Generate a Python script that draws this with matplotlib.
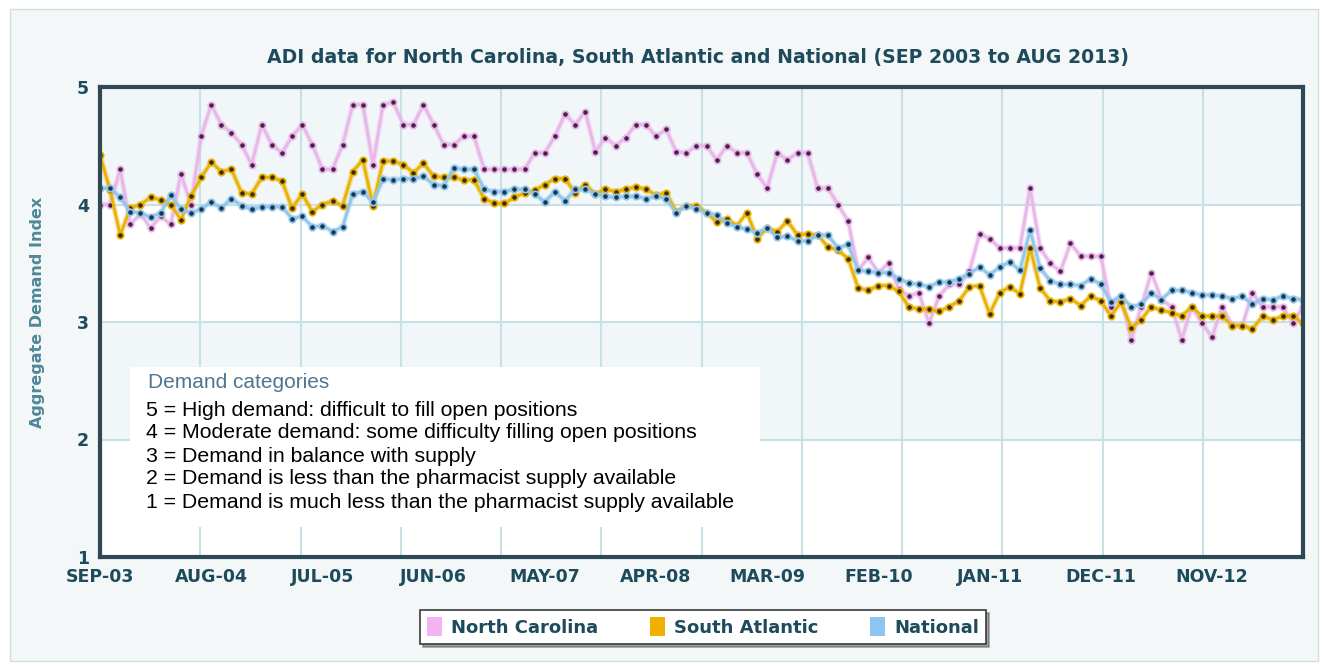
import matplotlib.pyplot as plt
import matplotlib.patches as mpatches
import numpy as np

# monthly ADI values, SEP-03 .. AUG-13
north_carolina = [
    4.00, 4.00, 4.30, 3.83, 3.92, 3.80, 3.90, 3.83, 4.26, 4.00,
    4.58, 4.85, 4.68, 4.61, 4.51, 4.34, 4.68, 4.51, 4.44, 4.58,
    4.68, 4.51, 4.30, 4.30, 4.51, 4.85, 4.85, 4.34, 4.85, 4.87,
    4.68, 4.68, 4.85, 4.68, 4.51, 4.51, 4.58, 4.58, 4.30, 4.30,
    4.30, 4.30, 4.30, 4.44, 4.44, 4.58, 4.77, 4.68, 4.79, 4.45,
    4.57, 4.50, 4.57, 4.68, 4.68, 4.58, 4.64, 4.45, 4.44, 4.50,
    4.50, 4.38, 4.50, 4.44, 4.44, 4.26, 4.14, 4.44, 4.38, 4.44,
    4.44, 4.14, 4.14, 4.00, 3.86, 3.44, 3.55, 3.42, 3.50, 3.28,
    3.22, 3.25, 2.99, 3.22, 3.32, 3.32, 3.43, 3.75, 3.71, 3.63,
    3.63, 3.63, 4.14, 3.63, 3.50, 3.43, 3.67, 3.56, 3.56, 3.56,
    3.13, 3.22, 2.85, 3.13, 3.42, 3.19, 3.13, 2.85, 3.13, 2.99,
    2.87, 3.13, 2.97, 2.97, 3.25, 3.13, 3.13, 3.13, 2.99, 3.13,
]
south_atlantic = [
    4.42, 4.12, 3.74, 3.97, 4.00, 4.06, 4.04, 4.00, 3.87, 4.07,
    4.23, 4.36, 4.28, 4.30, 4.10, 4.09, 4.23, 4.23, 4.20, 3.97,
    4.09, 3.94, 4.00, 4.03, 3.99, 4.28, 4.38, 3.99, 4.37, 4.37,
    4.34, 4.27, 4.35, 4.24, 4.23, 4.23, 4.21, 4.21, 4.05, 4.01,
    4.01, 4.06, 4.10, 4.12, 4.17, 4.22, 4.22, 4.10, 4.17, 4.09,
    4.13, 4.11, 4.13, 4.15, 4.13, 4.08, 4.10, 3.94, 3.99, 3.99,
    3.93, 3.85, 3.88, 3.82, 3.93, 3.71, 3.80, 3.77, 3.86, 3.74,
    3.75, 3.74, 3.64, 3.61, 3.54, 3.29, 3.27, 3.31, 3.31, 3.26,
    3.13, 3.11, 3.11, 3.09, 3.13, 3.18, 3.30, 3.31, 3.07, 3.25,
    3.30, 3.24, 3.63, 3.29, 3.18, 3.17, 3.20, 3.14, 3.22, 3.18,
    3.05, 3.17, 2.95, 3.02, 3.13, 3.10, 3.08, 3.05, 3.13, 3.05,
    3.05, 3.05, 2.97, 2.97, 2.94, 3.05, 3.02, 3.05, 3.05, 2.99,
]
national = [
    4.14, 4.14, 4.06, 3.94, 3.93, 3.89, 3.93, 4.08, 3.96, 3.93,
    3.96, 4.02, 3.97, 4.05, 3.99, 3.96, 3.98, 3.98, 3.98, 3.88,
    3.90, 3.81, 3.82, 3.77, 3.81, 4.09, 4.11, 4.02, 4.22, 4.21,
    4.22, 4.22, 4.24, 4.17, 4.16, 4.31, 4.30, 4.30, 4.13, 4.11,
    4.11, 4.13, 4.13, 4.09, 4.02, 4.11, 4.03, 4.13, 4.13, 4.09,
    4.07, 4.06, 4.07, 4.07, 4.05, 4.07, 4.05, 3.93, 3.99, 3.96,
    3.93, 3.91, 3.84, 3.81, 3.79, 3.76, 3.80, 3.72, 3.73, 3.69,
    3.69, 3.74, 3.74, 3.63, 3.66, 3.44, 3.43, 3.42, 3.42, 3.37,
    3.33, 3.32, 3.30, 3.34, 3.34, 3.37, 3.41, 3.47, 3.40, 3.47,
    3.51, 3.44, 3.78, 3.46, 3.35, 3.32, 3.32, 3.31, 3.37, 3.32,
    3.17, 3.22, 3.13, 3.15, 3.25, 3.19, 3.27, 3.27, 3.25, 3.23,
    3.23, 3.22, 3.20, 3.22, 3.15, 3.20, 3.19, 3.22, 3.20, 3.19,
]
x_labels = ['SEP-03', 'AUG-04', 'JUL-05', 'JUN-06', 'MAY-07', 'APR-08',
            'MAR-09', 'FEB-10', 'JAN-11', 'DEC-11', 'NOV-12']
categories = [
    '5 = High demand: difficult to fill open positions',
    '4 = Moderate demand: some difficulty filling open positions',
    '3 = Demand in balance with supply',
    '2 = Demand is less than the pharmacist supply available',
    '1 = Demand is much less than the pharmacist supply available',
]
series_names = ['North Carolina', 'South Atlantic', 'National']

W, H = 1323, 669
teal = '#1d4b5c'
fig = plt.figure(figsize=(W / 100, H / 100), dpi=100, facecolor='white')

# outer panel
fig.patches.append(mpatches.Rectangle((10 / W, 8 / H), 1308 / W, 652 / H,
                                      transform=fig.transFigure,
                                      facecolor='#f3f7f8', edgecolor='#d3dde1',
                                      lw=1, zorder=-5))

ax = fig.add_axes([100 / W, 1 - 557 / H, 1203 / W, 470 / H])
ax.set_zorder(2)
ax.set_facecolor('white')
ax.set_xlim(0, len(national) - 1)
ax.set_ylim(1, 5)

# alternating bands and grid
for lo in (2, 4):
    ax.axhspan(lo, lo + 1, color='#f1f6f8', zorder=0)
for v in np.linspace(0, len(national) - 1, 13)[1:-1]:
    ax.axvline(v, color='#c9e0e6', lw=1.5, zorder=1)
for v in (2, 3, 4):
    ax.axhline(v, color='#c9e0e6', lw=1.5, zorder=1)

line_cols = ['#e9b6ea', '#eab200', '#8ec6ec']
dot_cols = ['#4a1f48', '#3a2a10', '#1b3550']
months = np.arange(len(national))
for vals, lc, dc in zip([north_carolina, south_atlantic, national], line_cols, dot_cols):
    ax.plot(months, vals, color=lc, lw=4, alpha=0.35, zorder=2, solid_capstyle='round')
    ax.plot(months, vals, color=lc, lw=2, zorder=3, marker='o', ms=4.6,
            mfc=dc, mec=lc, mew=1.3)

ax.set_xticks(np.arange(0, 11 * len(x_labels), 11))
ax.set_xticklabels(x_labels)
ax.set_yticks([1, 2, 3, 4, 5])
ax.tick_params(length=0, colors=teal, labelsize=12.5, pad=8)
for lab in ax.get_xticklabels() + ax.get_yticklabels():
    lab.set_fontweight('bold')
for sp in ax.spines.values():
    sp.set_color('#2f4856')
    sp.set_linewidth(3)
    sp.set_zorder(5)

ax.set_ylabel('Aggregate Demand Index', color='#4f8799', fontsize=11.5,
              fontweight='bold', labelpad=20)
ax.yaxis.set_label_coords(-0.046, 0.52)

fig.text(698 / W, 1 - 58 / H,
         'ADI data for North Carolina, South Atlantic and National (SEP 2003 to AUG 2013)',
         ha='center', va='center', color=teal, fontsize=13.6, fontweight='bold')

# demand categories box
ax.add_patch(mpatches.Rectangle((30 / 1203, 30 / 470), 630 / 1203, 160 / 470,
                                transform=ax.transAxes, facecolor='white',
                                edgecolor='none', zorder=4))
fig.text(148 / W, 1 - 383 / H, 'Demand categories', ha='left', va='center',
         color='#4f7590', fontsize=15, family='Liberation Sans', zorder=6)
for k, line in enumerate(categories):
    fig.text(146 / W, 1 - (410 + 23 * k) / H, line, ha='left', va='center',
             color='black', fontsize=15.3, family='Liberation Sans', zorder=6)

handles = [mpatches.Patch(facecolor=c, edgecolor='none') for c in ['#f2b3f2', '#f0b000', '#8cc6f0']]
leg = fig.legend(handles, series_names, loc='center', bbox_to_anchor=(703 / W, 1 - 627 / H),
                 ncol=3, frameon=True, fancybox=False, shadow=True, fontsize=13,
                 handlelength=0.8, handleheight=1.2, columnspacing=2.9, handletextpad=0.5,
                 borderpad=0.4)
leg.get_frame().set_edgecolor('#3a3a3a')
leg.get_frame().set_linewidth(1.2)
for t in leg.get_texts():
    t.set_color(teal)
    t.set_fontweight('bold')

plt.savefig('out.png', dpi=100, facecolor='white')
